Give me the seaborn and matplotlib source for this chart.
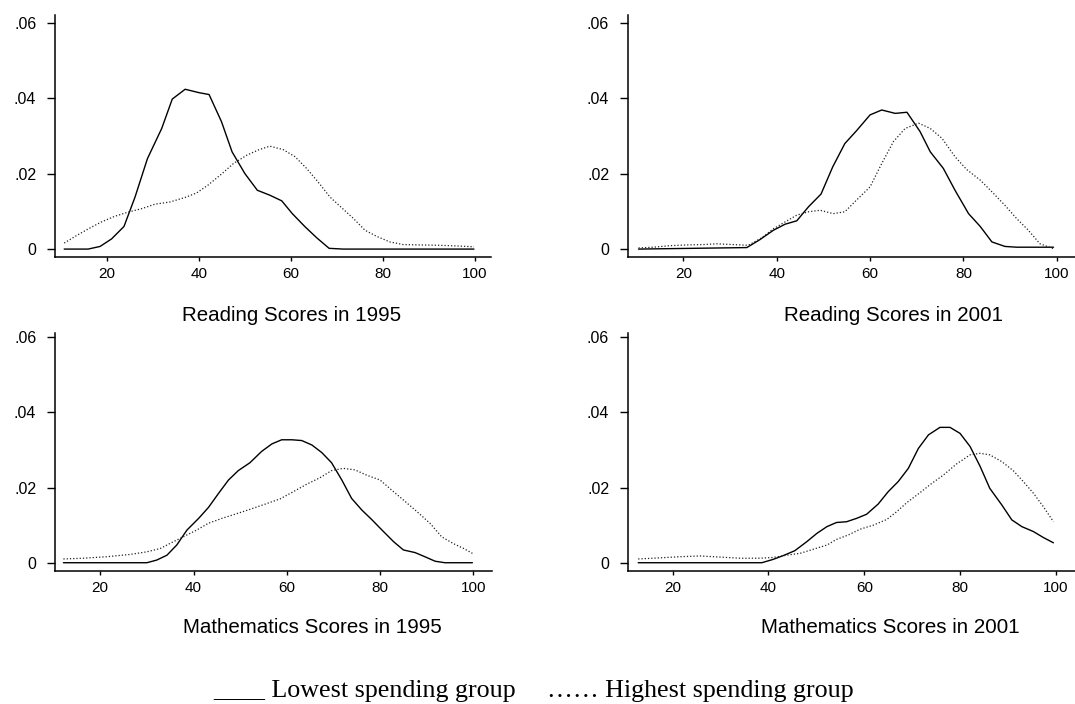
#!/usr/bin/env python
"""
Kernel density of test scores, lowest vs highest spending group.
"""
# Third-party
import matplotlib

matplotlib.use("Agg")
import matplotlib.pyplot as plt  # noqa: E402
import pandas as pd  # noqa: E402
import seaborn as sns  # noqa: E402

# Reading 1995
READ95_LOW_X = [10.7, 15.9, 18.5, 21.0, 23.7, 26.1, 28.8, 31.9, 34.2, 37.0,
                40.0, 42.2, 44.9, 47.2, 50.0, 52.7, 55.4, 58.0, 60.3, 63.0,
                65.6, 68.3, 71.4, 99.8]
READ95_LOW_Y = [0.0, 0.0, 0.0007, 0.0027, 0.006, 0.0138, 0.024, 0.032,
                0.0398, 0.0424, 0.0415, 0.041, 0.0338, 0.0258, 0.020, 0.0156,
                0.0143, 0.0128, 0.0094, 0.006, 0.003, 0.0002, 0.0, 0.0]
READ95_HIGH_X = [10.7, 13.4, 16.3, 18.8, 21.7, 24.6, 27.5, 30.4, 33.7, 37.0,
                 39.5, 42.0, 44.9, 47.5, 50.4, 52.9, 55.4, 58.3, 60.9, 63.4,
                 65.9, 68.5, 71.0, 73.6, 76.1, 78.6, 81.5, 84.4, 88.0, 92.4,
                 96.7, 99.8]
READ95_HIGH_Y = [0.0016, 0.0036, 0.0056, 0.0072, 0.0087, 0.0098, 0.0107,
                 0.0119, 0.0125, 0.0137, 0.0149, 0.017, 0.0199, 0.0227,
                 0.0249, 0.0263, 0.0273, 0.0264, 0.0245, 0.0214, 0.0178,
                 0.0138, 0.011, 0.0081, 0.005, 0.0034, 0.0019, 0.0012, 0.0011,
                 0.001, 0.0008, 0.0006]

# Reading 2001
READ01_LOW_X = [10.4, 33.6, 36.4, 39.3, 41.8, 44.3, 46.8, 49.5, 52.0, 54.6,
                57.1, 60.0, 62.5, 65.4, 67.9, 70.7, 72.9, 75.7, 78.2, 81.1,
                83.6, 86.1, 88.9, 91.4, 99.3]
READ01_LOW_Y = [0.0, 0.0004, 0.0025, 0.005, 0.0066, 0.0075, 0.0112, 0.0146,
                0.0218, 0.028, 0.0314, 0.0356, 0.0369, 0.036, 0.0363, 0.0312,
                0.0258, 0.0214, 0.0156, 0.0094, 0.006, 0.0019, 0.0007, 0.0005,
                0.0005]
READ01_HIGH_X = [10.4, 13.6, 17.1, 20.7, 24.3, 27.1, 30.7, 33.9, 36.8, 39.3,
                 41.8, 44.3, 46.8, 49.3, 52.1, 54.6, 57.1, 60.0, 62.5, 65.0,
                 67.5, 70.4, 72.9, 75.4, 78.2, 80.7, 83.6, 86.1, 88.9, 91.4,
                 93.9, 96.4, 99.3]
READ01_HIGH_Y = [0.0003, 0.0005, 0.0009, 0.0011, 0.0012, 0.0014, 0.0012,
                 0.001, 0.003, 0.0054, 0.0072, 0.009, 0.0099, 0.0103, 0.0094,
                 0.0099, 0.013, 0.0165, 0.0227, 0.0285, 0.032, 0.0334, 0.032,
                 0.0294, 0.0245, 0.0211, 0.0183, 0.0152, 0.0116, 0.0081,
                 0.005, 0.0014, 0.0001]

# Mathematics 1995
MATH95_LOW_X = [12.1, 30.0, 32.1, 34.3, 36.4, 38.6, 41.1, 43.2, 45.4, 47.5,
                49.6, 52.1, 54.6, 56.8, 58.9, 61.1, 63.2, 65.4, 67.5, 69.6,
                71.8, 73.9, 76.1, 78.2, 80.4, 82.9, 85.0, 87.5, 89.6, 91.8,
                93.9, 99.8]
MATH95_LOW_Y = [0.0, 0.0, 0.0007, 0.002, 0.0047, 0.0087, 0.0118, 0.0147,
                0.0185, 0.022, 0.0245, 0.0266, 0.0296, 0.0316, 0.0327, 0.0327,
                0.0325, 0.0313, 0.0293, 0.0266, 0.022, 0.0171, 0.014, 0.0115,
                0.0087, 0.0056, 0.0034, 0.0027, 0.0016, 0.0004, 0.0, 0.0]
MATH95_HIGH_X = [12.1, 16.4, 21.4, 26.4, 30.0, 32.9, 35.7, 38.6, 40.7, 43.2,
                 46.1, 48.9, 52.1, 55.4, 58.6, 61.4, 64.3, 67.1, 69.6, 72.1,
                 74.6, 77.1, 80.0, 82.5, 85.0, 87.9, 90.7, 93.2, 95.7, 97.9,
                 99.8]
MATH95_HIGH_Y = [0.001, 0.0012, 0.0016, 0.0022, 0.0029, 0.0038, 0.0056,
                 0.0074, 0.0087, 0.0105, 0.0118, 0.0129, 0.0142, 0.0156,
                 0.017, 0.0189, 0.0209, 0.0226, 0.0245, 0.0251, 0.0247,
                 0.0233, 0.022, 0.0193, 0.0167, 0.0136, 0.0105, 0.0069,
                 0.0051, 0.0038, 0.0025]

# Mathematics 2001
MATH01_LOW_X = [12.8, 38.6, 41.0, 43.1, 45.5, 48.0, 50.1, 52.2, 54.2, 56.3,
                58.4, 60.5, 62.9, 65.0, 67.1, 69.2, 71.3, 73.4, 75.8, 77.9,
                80.0, 82.1, 84.2, 86.2, 88.7, 90.8, 92.9, 95.3, 97.4, 99.5]
MATH01_LOW_Y = [0.0, 0.0, 0.0009, 0.0019, 0.0032, 0.0056, 0.0078, 0.0096,
                0.0107, 0.0109, 0.0118, 0.0129, 0.0156, 0.0189, 0.0216,
                0.0251, 0.0304, 0.034, 0.036, 0.036, 0.0344, 0.0309, 0.0256,
                0.0198, 0.0154, 0.0114, 0.0096, 0.0083, 0.0067, 0.0053]
MATH01_HIGH_X = [12.8, 17.4, 21.5, 25.7, 29.9, 34.1, 38.2, 41.0, 43.8, 46.6,
                 49.4, 52.2, 54.2, 56.7, 59.1, 61.9, 64.7, 66.8, 68.9, 71.6,
                 74.1, 76.5, 79.3, 82.1, 84.2, 86.2, 88.7, 91.1, 93.2, 95.3,
                 97.4, 99.5]
MATH01_HIGH_Y = [0.001, 0.0013, 0.0016, 0.0018, 0.0015, 0.0012, 0.0012,
                 0.0014, 0.002, 0.0025, 0.0036, 0.0047, 0.0062, 0.0074,
                 0.0089, 0.01, 0.0115, 0.0136, 0.016, 0.0186, 0.0211, 0.0233,
                 0.0263, 0.0287, 0.0291, 0.0287, 0.0269, 0.0245, 0.0216,
                 0.0185, 0.0149, 0.0109]

X_TICKS = [20, 40, 60, 80, 100]
Y_TICKS = [0, 0.02, 0.04, 0.06]
Y_TICK_LABELS = ["0", ".02", ".04", ".06"]
CAPTIONS = [
    "Reading Scores in 1995",
    "Reading Scores in 2001",
    "Mathematics Scores in 1995",
    "Mathematics Scores in 2001",
]
LEGEND_LOW = "____ Lowest spending group"
LEGEND_HIGH = "\u2026\u2026 Highest spending group"

W, H = 1075, 704


def px_rect(left, top, right, bottom):
    """Convert pixel box (from top-left) to figure fraction rect."""
    return [left / W, 1 - bottom / H, (right - left) / W, (bottom - top) / H]


def draw_panel(fig, rect, xlim, ylim, low, high):
    """Draw one density panel with the two spending groups."""
    ax = fig.add_axes(rect)
    df = pd.concat(
        [
            pd.DataFrame({"score": low[0], "density": low[1], "group": "low"}),
            pd.DataFrame(
                {"score": high[0], "density": high[1], "group": "high"}
            ),
        ]
    )
    sns.lineplot(
        data=df[df.group == "low"], x="score", y="density", ax=ax,
        color="black", lw=1.0, estimator=None, sort=False,
    )
    sns.lineplot(
        data=df[df.group == "high"], x="score", y="density", ax=ax,
        color="#222222", lw=0.9, linestyle=(0, (1, 1.6)), estimator=None,
        sort=False,
    )
    ax.set_xlim(*xlim)
    ax.set_ylim(*ylim)
    ax.set_xticks(X_TICKS)
    ax.set_yticks(Y_TICKS)
    ax.set_yticklabels(Y_TICK_LABELS)
    ax.set_xlabel("")
    ax.set_ylabel("")
    for side in ["top", "right"]:
        ax.spines[side].set_visible(False)
    for side in ["left", "bottom"]:
        ax.spines[side].set_linewidth(1.1)
        ax.spines[side].set_color("black")
    ax.tick_params(axis="y", length=5.5, width=1.0, pad=8, labelsize=11.5,
                   colors="black")
    ax.tick_params(axis="x", length=3, width=1.0, pad=4, labelsize=11,
                   colors="black")
    ax.set_facecolor("white")
    return ax


sns.set_style("ticks")
plt.rcParams["font.family"] = ["Liberation Sans", "DejaVu Sans"]
plt.rcParams["text.color"] = "black"

fig = plt.figure(figsize=(W / 100, H / 100), dpi=100)

ylim_top = (-0.0021, 0.0621)
ylim_bot = (-0.0022, 0.0611)

draw_panel(fig, px_rect(55, 15, 491, 257), (8.7, 103.5), ylim_top,
           (READ95_LOW_X, READ95_LOW_Y), (READ95_HIGH_X, READ95_HIGH_Y))
draw_panel(fig, px_rect(628, 15, 1075, 257), (8.15, 103.9), ylim_top,
           (READ01_LOW_X, READ01_LOW_Y), (READ01_HIGH_X, READ01_HIGH_Y))
draw_panel(fig, px_rect(55, 333, 492, 571), (10.3, 104.0), ylim_bot,
           (MATH95_LOW_X, MATH95_LOW_Y), (MATH95_HIGH_X, MATH95_HIGH_Y))
draw_panel(fig, px_rect(628, 333, 1075, 571), (10.67, 104.0), ylim_bot,
           (MATH01_LOW_X, MATH01_LOW_Y), (MATH01_HIGH_X, MATH01_HIGH_Y))

# Captions under each panel
cap_x = [292, 893, 312, 890]
cap_y = [320.5, 320.5, 633, 633]
for text, cx, cy in zip(CAPTIONS, cap_x, cap_y):
    fig.text(cx / W, 1 - cy / H, text, ha="center", va="baseline",
             fontsize=14.8, color="black")

# Legend line at the bottom
legend_font = ["Liberation Serif", "DejaVu Serif"]
fig.text(213 / W, 1 - 697 / H, LEGEND_LOW, ha="left", va="baseline",
         fontsize=18.7, family=legend_font, color="black")
fig.text(547 / W, 1 - 697 / H, LEGEND_HIGH, ha="left", va="baseline",
         fontsize=18.7, family=legend_font, color="black")

fig.savefig("out.png", dpi=100, facecolor="white")
